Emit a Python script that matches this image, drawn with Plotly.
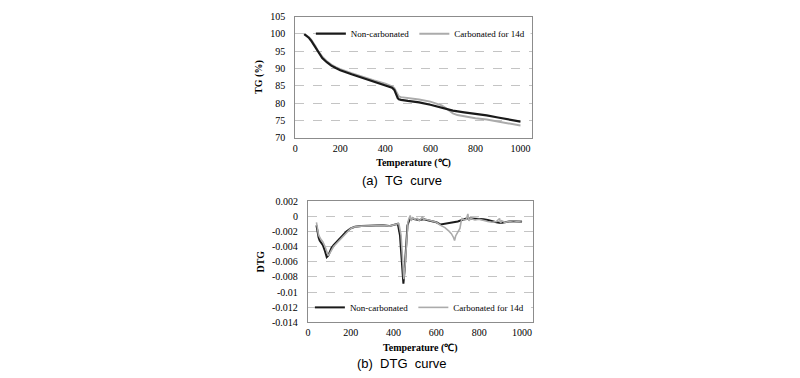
import plotly.graph_objects as go

# ---------------- data ----------------
tg_temp_nc = [40, 50, 60, 70, 80, 90, 100, 120, 140, 160, 180, 200, 250, 300, 350, 400, 420, 430, 440, 445,
              450, 455, 460, 470, 500, 550, 600, 650, 700, 750, 800, 850, 900, 950, 1000]
tg_nc = [99.9, 99.5, 98.9, 98.1, 97.1, 95.9, 94.7, 93.0, 91.8, 90.8, 90.1, 89.5, 88.3, 87.2, 86.2, 85.2, 84.7, 84.4, 83.8, 83.0,
         82.0, 81.4, 81.1, 80.9, 80.6, 80.2, 79.5, 78.6, 77.8, 77.3, 76.9, 76.4, 75.8, 75.2, 74.6]

tg_temp_c = [40, 50, 60, 70, 80, 90, 100, 120, 140, 160, 180, 200, 250, 300, 350, 400, 420, 430, 440, 445,
             450, 455, 460, 470, 500, 550, 600, 650, 680, 700, 720, 750, 800, 850, 900, 950, 1000]
tg_c = [99.9, 99.6, 99.1, 98.4, 97.5, 96.4, 95.2, 93.4, 92.1, 91.1, 90.4, 89.8, 88.6, 87.5, 86.5, 85.6, 85.1, 84.8, 84.3, 83.6,
        82.8, 82.2, 81.9, 81.7, 81.5, 81.0, 80.4, 79.3, 78.0, 77.0, 76.5, 76.1, 75.6, 75.2, 74.6, 74.0, 73.5]

dtg_temp_nc = [40, 45, 50, 55, 60, 70, 80, 88, 95, 100,
               110, 120, 140, 160, 180, 200, 220, 250, 300, 350,
               380, 400, 420, 430, 440, 446, 452, 458, 465, 475,
               490, 500, 520, 540, 560, 580, 600, 620, 640, 660,
               680, 700, 720, 740, 760, 780, 800, 820, 840, 860,
               880, 900, 920, 940, 960, 980, 1000]
dtg_nc_milli = [-1.2, -2.2, -2.8, -3.2, -3.4, -3.8, -4.6, -5.4, -5.2, -4.8,
                -4.2, -3.8, -3.2, -2.6, -2.0, -1.6, -1.4, -1.3, -1.25, -1.2,
                -1.3, -1.1, -1.0, -2.5, -6.0, -8.9, -7.0, -3.5, -1.2, -0.4,
                -0.3, -0.4, -0.5, -0.4, -0.5, -0.6, -0.8, -1.1, -1.0, -0.9,
                -0.8, -0.7, -0.5, -0.3, -0.3, -0.3, -0.4, -0.4, -0.5, -0.7,
                -0.8, -0.9, -0.8, -0.7, -0.7, -0.7, -0.7]

dtg_temp_c = [40, 45, 50, 60, 70, 80, 88, 95, 100, 110,
              120, 140, 160, 180, 200, 220, 250, 300, 350, 380,
              400, 420, 425, 435, 442, 448, 454, 460, 467, 472,
              478, 482, 490, 500, 510, 520, 530, 535, 540, 550,
              560, 580, 600, 620, 640, 660, 670, 680, 685, 690,
              700, 710, 715, 720, 730, 740, 747, 752, 760, 780,
              800, 820, 840, 860, 880, 895, 900, 905, 920, 940,
              960, 980, 1000]
dtg_c_milli = [-0.8, -1.8, -2.5, -3.0, -3.4, -4.0, -4.8, -5.2, -5.0, -4.5,
               -4.0, -3.4, -2.8, -2.1, -1.6, -1.4, -1.3, -1.25, -1.2, -1.3,
               -1.1, -1.0, -1.0, -2.5, -5.5, -8.3, -6.5, -3.0, -0.8, -0.3,
               0.1, -0.6, -0.2, -0.4, -0.3, -0.6, -0.3, 0.0, -0.5, -0.4,
               -0.5, -0.6, -0.8, -1.2, -1.5, -2.0, -2.3, -2.8, -3.2, -2.6,
               -2.0, -1.6, -0.8, -0.3, -0.5, -0.4, 0.3, -0.6, -0.3, -0.5,
               -0.4, -0.6, -0.7, -0.8, -0.7, -0.3, -0.9, -0.6, -0.8, -0.7,
               -0.8, -0.7, -0.6]

dtg_nc = [v / 1000 for v in dtg_nc_milli]
dtg_c = [v / 1000 for v in dtg_c_milli]

series_names = ["Non-carbonated", "Carbonated for 14d"]
x_ticks = [0, 200, 400, 600, 800, 1000]
tg_ticks = [70, 75, 80, 85, 90, 95, 100, 105]
dtg_ticks = [0.002, 0, -0.002, -0.004, -0.006, -0.008, -0.01, -0.012, -0.014]
dtg_tick_text = ["0.002", "0", "-0.002", "-0.004", "-0.006", "-0.008", "-0.01", "-0.012", "-0.014"]
captions = ["(a)  TG  curve", "(b)  DTG  curve"]

# ---------------- styles / layout geometry (screen pixels) ----------------
BLACK = "#1a1a1a"
GRAY = "#ababab"
SERIF = "Liberation Serif, Times New Roman, serif"
SANS = "Liberation Sans, Arial, sans-serif"
W, H = 800, 378
OFF = 8  # page body margin offset

X_RANGE = [0, 1050]
TG_RANGE = [70, 105]
DTG_RANGE = [-0.014, 0.002]
P1 = dict(l=293.3, r=530.7, t=11.7, b=136.3)
P2 = dict(l=306.0, r=531.7, t=201.7, b=326.7)


def fx(p):
    return (p - OFF) / W


def fy(p):
    return 1 - (p - OFF) / H


def px_to_x(p, box):
    return X_RANGE[0] + (p - box["l"]) / (box["r"] - box["l"]) * (X_RANGE[1] - X_RANGE[0])


def py_to_y(p, box, rng):
    return rng[1] - (p - box["t"]) / (box["b"] - box["t"]) * (rng[1] - rng[0])


fig = go.Figure()

# TG (top)
fig.add_trace(go.Scatter(x=tg_temp_c, y=tg_c, mode="lines", name=series_names[1],
                         line=dict(color=GRAY, width=2), xaxis="x", yaxis="y",
                         legend="legend", legendrank=2))
fig.add_trace(go.Scatter(x=tg_temp_nc, y=tg_nc, mode="lines", name=series_names[0],
                         line=dict(color=BLACK, width=2.2), xaxis="x", yaxis="y",
                         legend="legend", legendrank=1))
# DTG (bottom)
fig.add_trace(go.Scatter(x=dtg_temp_nc, y=dtg_nc, mode="lines", name=series_names[0],
                         line=dict(color=BLACK, width=2), xaxis="x2", yaxis="y2",
                         legend="legend2", legendrank=1))
fig.add_trace(go.Scatter(x=dtg_temp_c, y=dtg_c, mode="lines", name=series_names[1],
                         line=dict(color=GRAY, width=1.6), xaxis="x2", yaxis="y2",
                         legend="legend2", legendrank=2))

tickfont = dict(family=SERIF, size=10, color="#000")
titlefont = dict(family=SERIF, size=10, color="#000", weight="bold")
legfont = dict(family=SERIF, size=9, color="#000")

common_x = dict(range=X_RANGE, tickvals=x_ticks, showgrid=False, zeroline=False,
                showline=True, linecolor="#8c8c8c", linewidth=1, mirror=True,
                ticks="outside", ticklen=1, tickcolor="rgba(0,0,0,0)", tickfont=tickfont)
common_y = dict(showgrid=True, gridcolor="#c4c4c4", griddash="dash", gridwidth=1, zeroline=False,
                showline=True, linecolor="#8c8c8c", linewidth=1, mirror=True,
                ticks="outside", ticklen=7, tickcolor="rgba(0,0,0,0)", tickfont=tickfont)

LEG1_Y = 29.3
LEG2_Y = 311.2

# white strips that hide the gridline behind each legend (drawn between grid and traces)
shapes = [
    dict(type="rect", xref="x", yref="y", layer="between",
         x0=px_to_x(314, P1), x1=px_to_x(529.5, P1),
         y0=py_to_y(LEG1_Y + 3, P1, TG_RANGE), y1=py_to_y(LEG1_Y - 3, P1, TG_RANGE),
         fillcolor="white", line=dict(width=0)),
    dict(type="rect", xref="x2", yref="y2", layer="between",
         x0=px_to_x(313, P2), x1=px_to_x(530, P2),
         y0=py_to_y(LEG2_Y + 3, P2, DTG_RANGE), y1=py_to_y(LEG2_Y - 3, P2, DTG_RANGE),
         fillcolor="white", line=dict(width=0)),
]

fig.update_layout(
    width=W, height=H,
    margin=dict(l=0, r=0, t=0, b=0),
    paper_bgcolor="white", plot_bgcolor="white",
    xaxis=dict(domain=[fx(P1["l"]), fx(P1["r"])], anchor="y",
               title=dict(text="Temperature (℃)", font=titlefont, standoff=6), **common_x),
    yaxis=dict(domain=[fy(P1["b"]), fy(P1["t"])], anchor="x", range=TG_RANGE, tickvals=tg_ticks,
               title=dict(text="TG (%)", font=titlefont, standoff=5), **common_y),
    xaxis2=dict(domain=[fx(P2["l"]), fx(P2["r"])], anchor="y2",
                title=dict(text="Temperature (℃)", font=titlefont, standoff=6), **common_x),
    yaxis2=dict(domain=[fy(P2["b"]), fy(P2["t"])], anchor="x2", range=DTG_RANGE,
                tickvals=dtg_ticks, ticktext=dtg_tick_text,
                title=dict(text="DTG", font=titlefont, standoff=5), **common_y),
    legend=dict(orientation="h", x=fx(309), y=fy(LEG1_Y), xanchor="left", yanchor="middle",
                bgcolor="rgba(0,0,0,0)", font=legfont, itemwidth=30, tracegroupgap=0),
    legend2=dict(orientation="h", x=fx(308), y=fy(LEG2_Y), xanchor="left", yanchor="middle",
                 bgcolor="rgba(0,0,0,0)", font=legfont, itemwidth=30, tracegroupgap=0),
    showlegend=True,
    shapes=shapes,
    annotations=[
        dict(text=captions[0], x=fx(400), y=fy(180.7), xref="paper", yref="paper",
             showarrow=False, font=dict(family=SANS, size=13, color="#000"), xanchor="center", yanchor="middle"),
        dict(text=captions[1], x=fx(400), y=fy(369), xref="paper", yref="paper",
             showarrow=False, font=dict(family=SANS, size=13, color="#000"), xanchor="center", yanchor="middle"),
    ],
)

fig.write_html("out.html")
